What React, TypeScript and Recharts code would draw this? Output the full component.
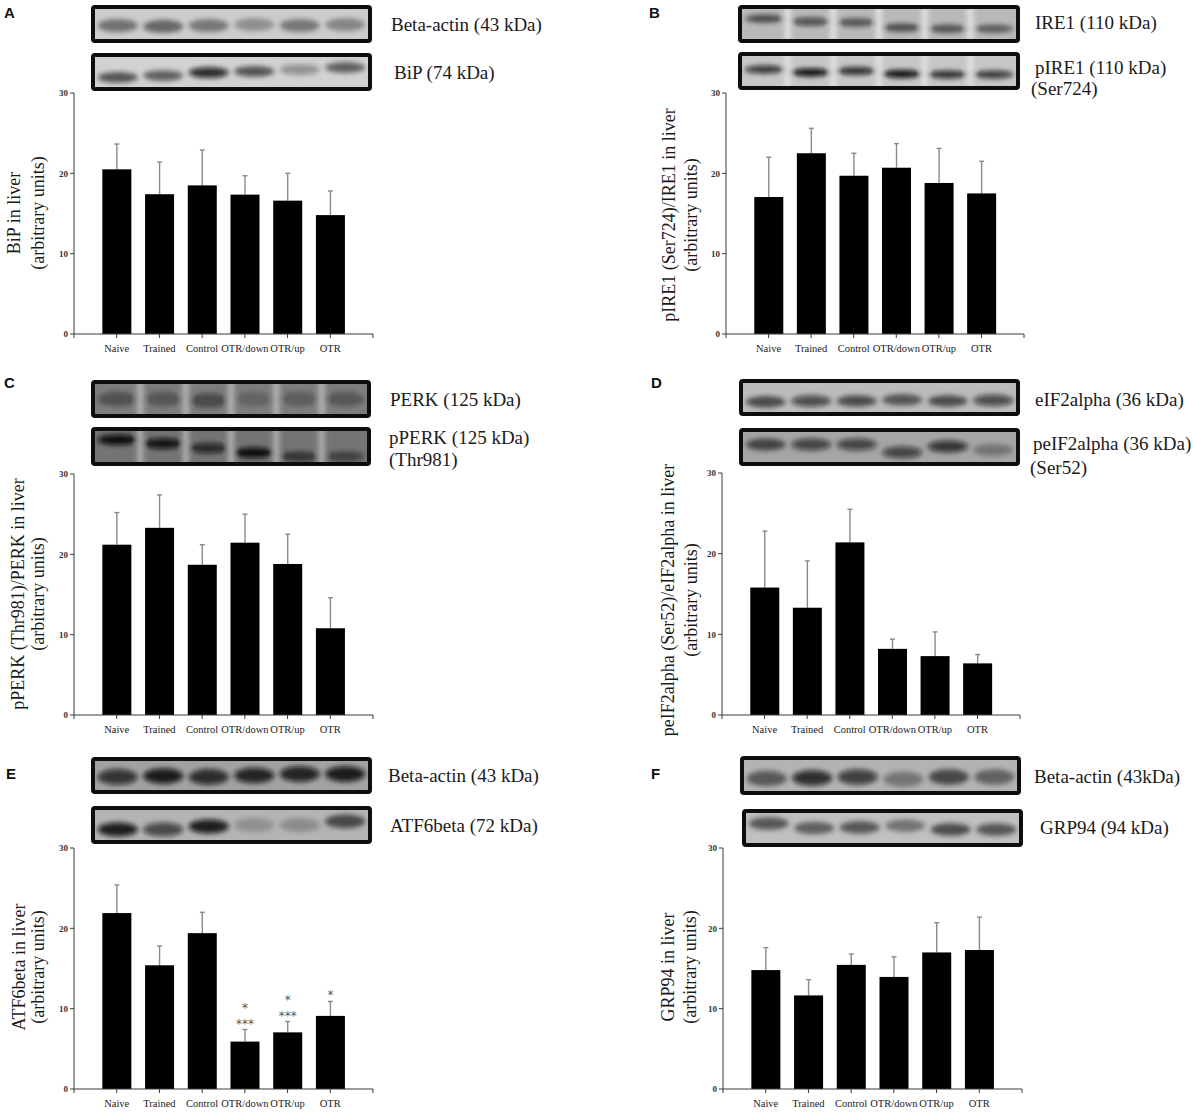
import { Bar, BarChart, XAxis, YAxis } from "recharts";

// ---- data ----
const categories = ["Naive", "Trained", "Control", "OTR/down", "OTR/up", "OTR"];
const yTicks = [0, 10, 20, 30];

const bipMean = [20.5, 17.4, 18.5, 17.35, 16.6, 14.8];
const bipSem = [3.15, 4.0, 4.4, 2.35, 3.4, 3.0];

const pire1Mean = [17.05, 22.5, 19.7, 20.7, 18.8, 17.5];
const pire1Sem = [4.95, 3.1, 2.8, 3.0, 4.3, 4.0];

const pperkMean = [21.2, 23.3, 18.7, 21.45, 18.8, 10.8];
const pperkSem = [4.0, 4.1, 2.5, 3.55, 3.7, 3.8];

const peif2Mean = [15.8, 13.3, 21.4, 8.2, 7.3, 6.4];
const peif2Sem = [7.0, 5.8, 4.1, 1.2, 3.0, 1.1];

const atf6Mean = [21.9, 15.4, 19.4, 5.9, 7.05, 9.1];
const atf6Sem = [3.5, 2.4, 2.6, 1.5, 1.35, 1.8];
const atf6Sig = [[], [], [], ["*", "***"], ["*", "***"], ["*"]];

const grp94Mean = [14.8, 11.65, 15.45, 13.95, 17.0, 17.3];
const grp94Sem = [2.8, 1.95, 1.35, 2.5, 3.7, 4.1];

const SERIF = "'Liberation Serif', 'Times New Roman', serif";
const SANS = "'Liberation Sans', Arial, sans-serif";

type BlotSpec = {
  box: [number, number, number, number];
  bg: string;
  pos: number[];
  dark: number[];
  thick: number;
  gaps?: string;
};

type PanelSpec = {
  letter: string;
  lx: number;
  ly: number;
  blots: BlotSpec[];
  labels: { text: string; x: number; y: number }[];
  title: string[];
  tx: number[];
  ty: number;
  axisX: number;
  xEnd: number;
  top: number;
  bottom: number;
  mean: number[];
  sem: number[];
  sig?: string[][];
};

const panels: PanelSpec[] = [
  {
    letter: "A", lx: 4, ly: 17.5,
    blots: [
      { box: [91, 5, 372, 43], bg: "#cdcdcd", pos: [0.55, 0.58, 0.55, 0.52, 0.55, 0.52], dark: [0.45, 0.5, 0.42, 0.3, 0.42, 0.35], thick: 0.22 },
      { box: [91, 53, 372, 91], bg: "#d2d2d2", pos: [0.68, 0.62, 0.52, 0.48, 0.42, 0.35], dark: [0.6, 0.55, 0.85, 0.6, 0.3, 0.55], thick: 0.18 },
    ],
    labels: [
      { text: "Beta-actin (43 kDa)", x: 391, y: 30.5 },
      { text: "BiP (74 kDa)", x: 394, y: 78.5 },
    ],
    title: ["BiP in liver", "(arbitrary units)"], tx: [13.5, 37.5], ty: 213,
    axisX: 74, xEnd: 373, top: 93, bottom: 334,
    mean: bipMean, sem: bipSem,
  },
  {
    letter: "B", lx: 649, ly: 17.5,
    blots: [
      { box: [738, 5, 1020, 43], bg: "#b9b9b9", pos: [0.32, 0.42, 0.45, 0.62, 0.66, 0.66], dark: [0.6, 0.65, 0.55, 0.6, 0.55, 0.5], thick: 0.14, gaps: "#e2e2e2" },
      { box: [738, 52, 1020, 90], bg: "#c6c6c6", pos: [0.45, 0.55, 0.5, 0.6, 0.62, 0.62], dark: [0.8, 1, 0.85, 1, 0.85, 0.8], thick: 0.13, gaps: "#e0e0e0" },
    ],
    labels: [
      { text: "IRE1 (110 kDa)", x: 1035, y: 28.5 },
      { text: "pIRE1 (110 kDa)", x: 1035, y: 73.5 },
      { text: "(Ser724)", x: 1031, y: 94.5 },
    ],
    title: ["pIRE1 (Ser724)/IRE1 in liver", "(arbitrary units)"], tx: [668.5, 691], ty: 215,
    axisX: 726, xEnd: 1024, top: 93, bottom: 334,
    mean: pire1Mean, sem: pire1Sem,
  },
  {
    letter: "C", lx: 4, ly: 387.5,
    blots: [
      { box: [91, 380, 371, 418], bg: "#7d7d7d", pos: [0.5, 0.5, 0.55, 0.5, 0.5, 0.5], dark: [0.35, 0.3, 0.4, 0.2, 0.25, 0.3], thick: 0.25, gaps: "#b4b4b4" },
      { box: [91, 427, 371, 466], bg: "#747474", pos: [0.28, 0.4, 0.55, 0.7, 0.82, 0.82], dark: [1, 0.95, 0.75, 1, 0.55, 0.45], thick: 0.17, gaps: "#b0b0b0" },
    ],
    labels: [
      { text: "PERK (125 kDa)", x: 390, y: 405.5 },
      { text: "pPERK (125 kDa)", x: 389, y: 443.5 },
      { text: "(Thr981)", x: 389, y: 465.5 },
    ],
    title: ["pPERK (Thr981)/PERK in liver", "(arbitrary units)"], tx: [18, 38], ty: 594,
    axisX: 74, xEnd: 373, top: 474, bottom: 715,
    mean: pperkMean, sem: pperkSem,
  },
  {
    letter: "D", lx: 651, ly: 387.5,
    blots: [
      { box: [739, 379, 1020, 416], bg: "#bcbcbc", pos: [0.65, 0.62, 0.62, 0.58, 0.62, 0.6], dark: [0.6, 0.65, 0.6, 0.55, 0.6, 0.65], thick: 0.2 },
      { box: [739, 428, 1020, 466], bg: "#a5a5a5", pos: [0.42, 0.42, 0.42, 0.68, 0.48, 0.6], dark: [0.6, 0.65, 0.65, 0.65, 0.75, 0.3], thick: 0.2 },
    ],
    labels: [
      { text: "eIF2alpha (36 kDa)", x: 1035, y: 405.5 },
      { text: "peIF2alpha (36 kDa)", x: 1033, y: 449.5 },
      { text: "(Ser52)", x: 1030, y: 473.5 },
    ],
    title: ["peIF2alpha (Ser52)/eIF2alpha in liver", "(arbitrary units)"], tx: [668, 691], ty: 600,
    axisX: 722, xEnd: 1020, top: 473, bottom: 715,
    mean: peif2Mean, sem: peif2Sem,
  },
  {
    letter: "E", lx: 6, ly: 778.5,
    blots: [
      { box: [91, 757, 372, 794], bg: "#a2a2a2", pos: [0.55, 0.52, 0.55, 0.5, 0.45, 0.45], dark: [0.75, 0.9, 0.8, 0.85, 0.85, 0.9], thick: 0.27 },
      { box: [91, 806, 372, 844], bg: "#b4b4b4", pos: [0.65, 0.65, 0.55, 0.5, 0.5, 0.38], dark: [0.9, 0.65, 0.9, 0.2, 0.22, 0.6], thick: 0.23 },
    ],
    labels: [
      { text: "Beta-actin (43 kDa)", x: 388, y: 781.5 },
      { text: "ATF6beta (72 kDa)", x: 390, y: 831.5 },
    ],
    title: ["ATF6beta in liver", "(arbitrary units)"], tx: [19, 38], ty: 967,
    axisX: 74, xEnd: 373, top: 848, bottom: 1089,
    mean: atf6Mean, sem: atf6Sem, sig: atf6Sig,
  },
  {
    letter: "F", lx: 651, ly: 778.5,
    blots: [
      { box: [740, 756, 1021, 795], bg: "#b3b3b3", pos: [0.6, 0.58, 0.55, 0.62, 0.55, 0.55], dark: [0.5, 0.8, 0.7, 0.35, 0.6, 0.45], thick: 0.25 },
      { box: [742, 809, 1023, 847], bg: "#c0c0c0", pos: [0.35, 0.5, 0.48, 0.42, 0.55, 0.55], dark: [0.55, 0.5, 0.55, 0.4, 0.6, 0.55], thick: 0.21 },
    ],
    labels: [
      { text: "Beta-actin (43kDa)", x: 1034, y: 782.5 },
      { text: "GRP94 (94 kDa)", x: 1040, y: 833.5 },
    ],
    title: ["GRP94 in liver", "(arbitrary units)"], tx: [668, 689.5], ty: 967,
    axisX: 723, xEnd: 1022, top: 848, bottom: 1089,
    mean: grp94Mean, sem: grp94Sem,
  },
];

function Blot({ b, id }: { b: BlotSpec; id: string }) {
  const [x0, y0, x1, y1] = b.box;
  const w = x1 - x0;
  const h = y1 - y0;
  const inset = 4;
  const iw = w - inset * 2;
  const ih = h - inset * 2;
  const lane = iw / 6;
  return (
    <g>
      <clipPath id={id}>
        <rect x={x0 + inset} y={y0 + inset} width={iw} height={ih} />
      </clipPath>
      <rect x={x0 + 2} y={y0 + 2} width={w - 4} height={h - 4} fill={b.bg} />
      <g clipPath={`url(#${id})`}>
        <g filter="url(#blotBlur)">
          {b.gaps &&
            [1, 2, 3, 4, 5].map((k) => (
              <rect key={k} x={x0 + inset + lane * k - 3} y={y0} width={6} height={h} fill={b.gaps} />
            ))}
          {b.dark.map((d, i) => (
            <ellipse
              key={i}
              cx={x0 + inset + lane * (i + 0.5)}
              cy={y0 + inset + ih * b.pos[i]}
              rx={lane * 0.44}
              ry={ih * b.thick}
              fill="#0a0a0a"
              opacity={d}
            />
          ))}
        </g>
      </g>
      <rect x={x0 + 2} y={y0 + 2} width={w - 4} height={h - 4} rx={2} fill="none" stroke="#0d0d0d" strokeWidth={4} />
    </g>
  );
}

function MeanBar(props: any) {
  const { x, y, width, height, payload } = props;
  const perUnit = height / payload.mean;
  const errTop = y - payload.sem * perUnit;
  const cx = x + width / 2;
  const sig: string[] = payload.sig || [];
  return (
    <g>
      <line x1={cx} x2={cx} y1={y} y2={errTop} stroke="#8a8a8a" strokeWidth={1.4} />
      <line x1={cx - 2.5} x2={cx + 2.5} y1={errTop} y2={errTop} stroke="#8a8a8a" strokeWidth={1.4} />
      <rect x={x} y={y} width={width} height={height} fill="#000" />
      {sig.map((s, i) => (
        <text
          key={i}
          x={cx}
          y={errTop - 2 - (sig.length - 1 - i) * 16}
          textAnchor="middle"
          fontFamily="'DejaVu Sans', sans-serif"
          fontSize={12}
          fill="#5a5a5a"
        >
          {s}
        </text>
      ))}
    </g>
  );
}

function PanelChart({ p }: { p: PanelSpec }) {
  const data = categories.map((name, i) => ({
    pos: i + 1,
    name,
    mean: p.mean[i],
    sem: p.sem[i],
    sig: p.sig ? p.sig[i] : [],
  }));
  const yAxisW = 40;
  const mt = 40;
  const mb = 28;
  const mr = 8;
  const plotW = p.xEnd - p.axisX;
  const plotH = p.bottom - p.top;
  return (
    <div style={{ position: "absolute", left: p.axisX - yAxisW, top: p.top - mt }}>
      <BarChart
        width={yAxisW + plotW + mr}
        height={mt + plotH + mb}
        data={data}
        margin={{ top: mt, right: mr, bottom: 0, left: 0 }}
      >
        <XAxis
          type="number"
          dataKey="pos"
          domain={[0, 7]}
          ticks={[0, 1, 2, 3, 4, 5, 6, 7]}
          interval={0}
          tickFormatter={(v: number) => categories[v - 1] ?? ""}
          height={mb}
          tickSize={4}
          tickMargin={7}
          stroke="#3a3a3a"
          tick={{ fontFamily: SERIF, fontSize: 10.5, fill: "#222" }}
        />
        <YAxis
          type="number"
          domain={[0, 30]}
          ticks={yTicks}
          interval={0}
          width={yAxisW}
          tickSize={4}
          tickMargin={2}
          stroke="#3a3a3a"
          tick={{ fontFamily: SERIF, fontSize: 9, fontWeight: "bold", fill: "#333" }}
        />
        <Bar dataKey="mean" barSize={29} isAnimationActive={false} shape={<MeanBar />} />
      </BarChart>
    </div>
  );
}

export default function App() {
  return (
    <div style={{ position: "absolute", left: 0, top: 0, width: 1196, height: 1114, background: "#fff" }}>
      <svg width={1196} height={1114} style={{ position: "absolute", left: 0, top: 0 }}>
        <defs>
          <filter id="blotBlur" x="-20%" y="-50%" width="140%" height="200%">
            <feGaussianBlur stdDeviation="2.6" />
          </filter>
        </defs>
        {panels.map((p, pi) => (
          <g key={p.letter}>
            <text x={p.lx} y={p.ly} fontFamily={SANS} fontWeight="bold" fontSize={15} fill="#111">
              {p.letter}
            </text>
            {p.blots.map((b, bi) => (
              <Blot key={bi} b={b} id={`clip-${pi}-${bi}`} />
            ))}
            {p.labels.map((l) => (
              <text key={l.text} x={l.x} y={l.y} fontFamily={SERIF} fontSize={19} fill="#1a1a1a">
                {l.text}
              </text>
            ))}
            {p.title.map((t, ti) => (
              <text
                key={t}
                x={p.tx[ti]}
                y={p.ty}
                transform={`rotate(-90 ${p.tx[ti]} ${p.ty})`}
                textAnchor="middle"
                dominantBaseline="central"
                fontFamily={SERIF}
                fontSize={18}
                fill="#1a1a1a"
              >
                {t}
              </text>
            ))}
          </g>
        ))}
      </svg>
      {panels.map((p) => (
        <PanelChart key={p.letter} p={p} />
      ))}
    </div>
  );
}
